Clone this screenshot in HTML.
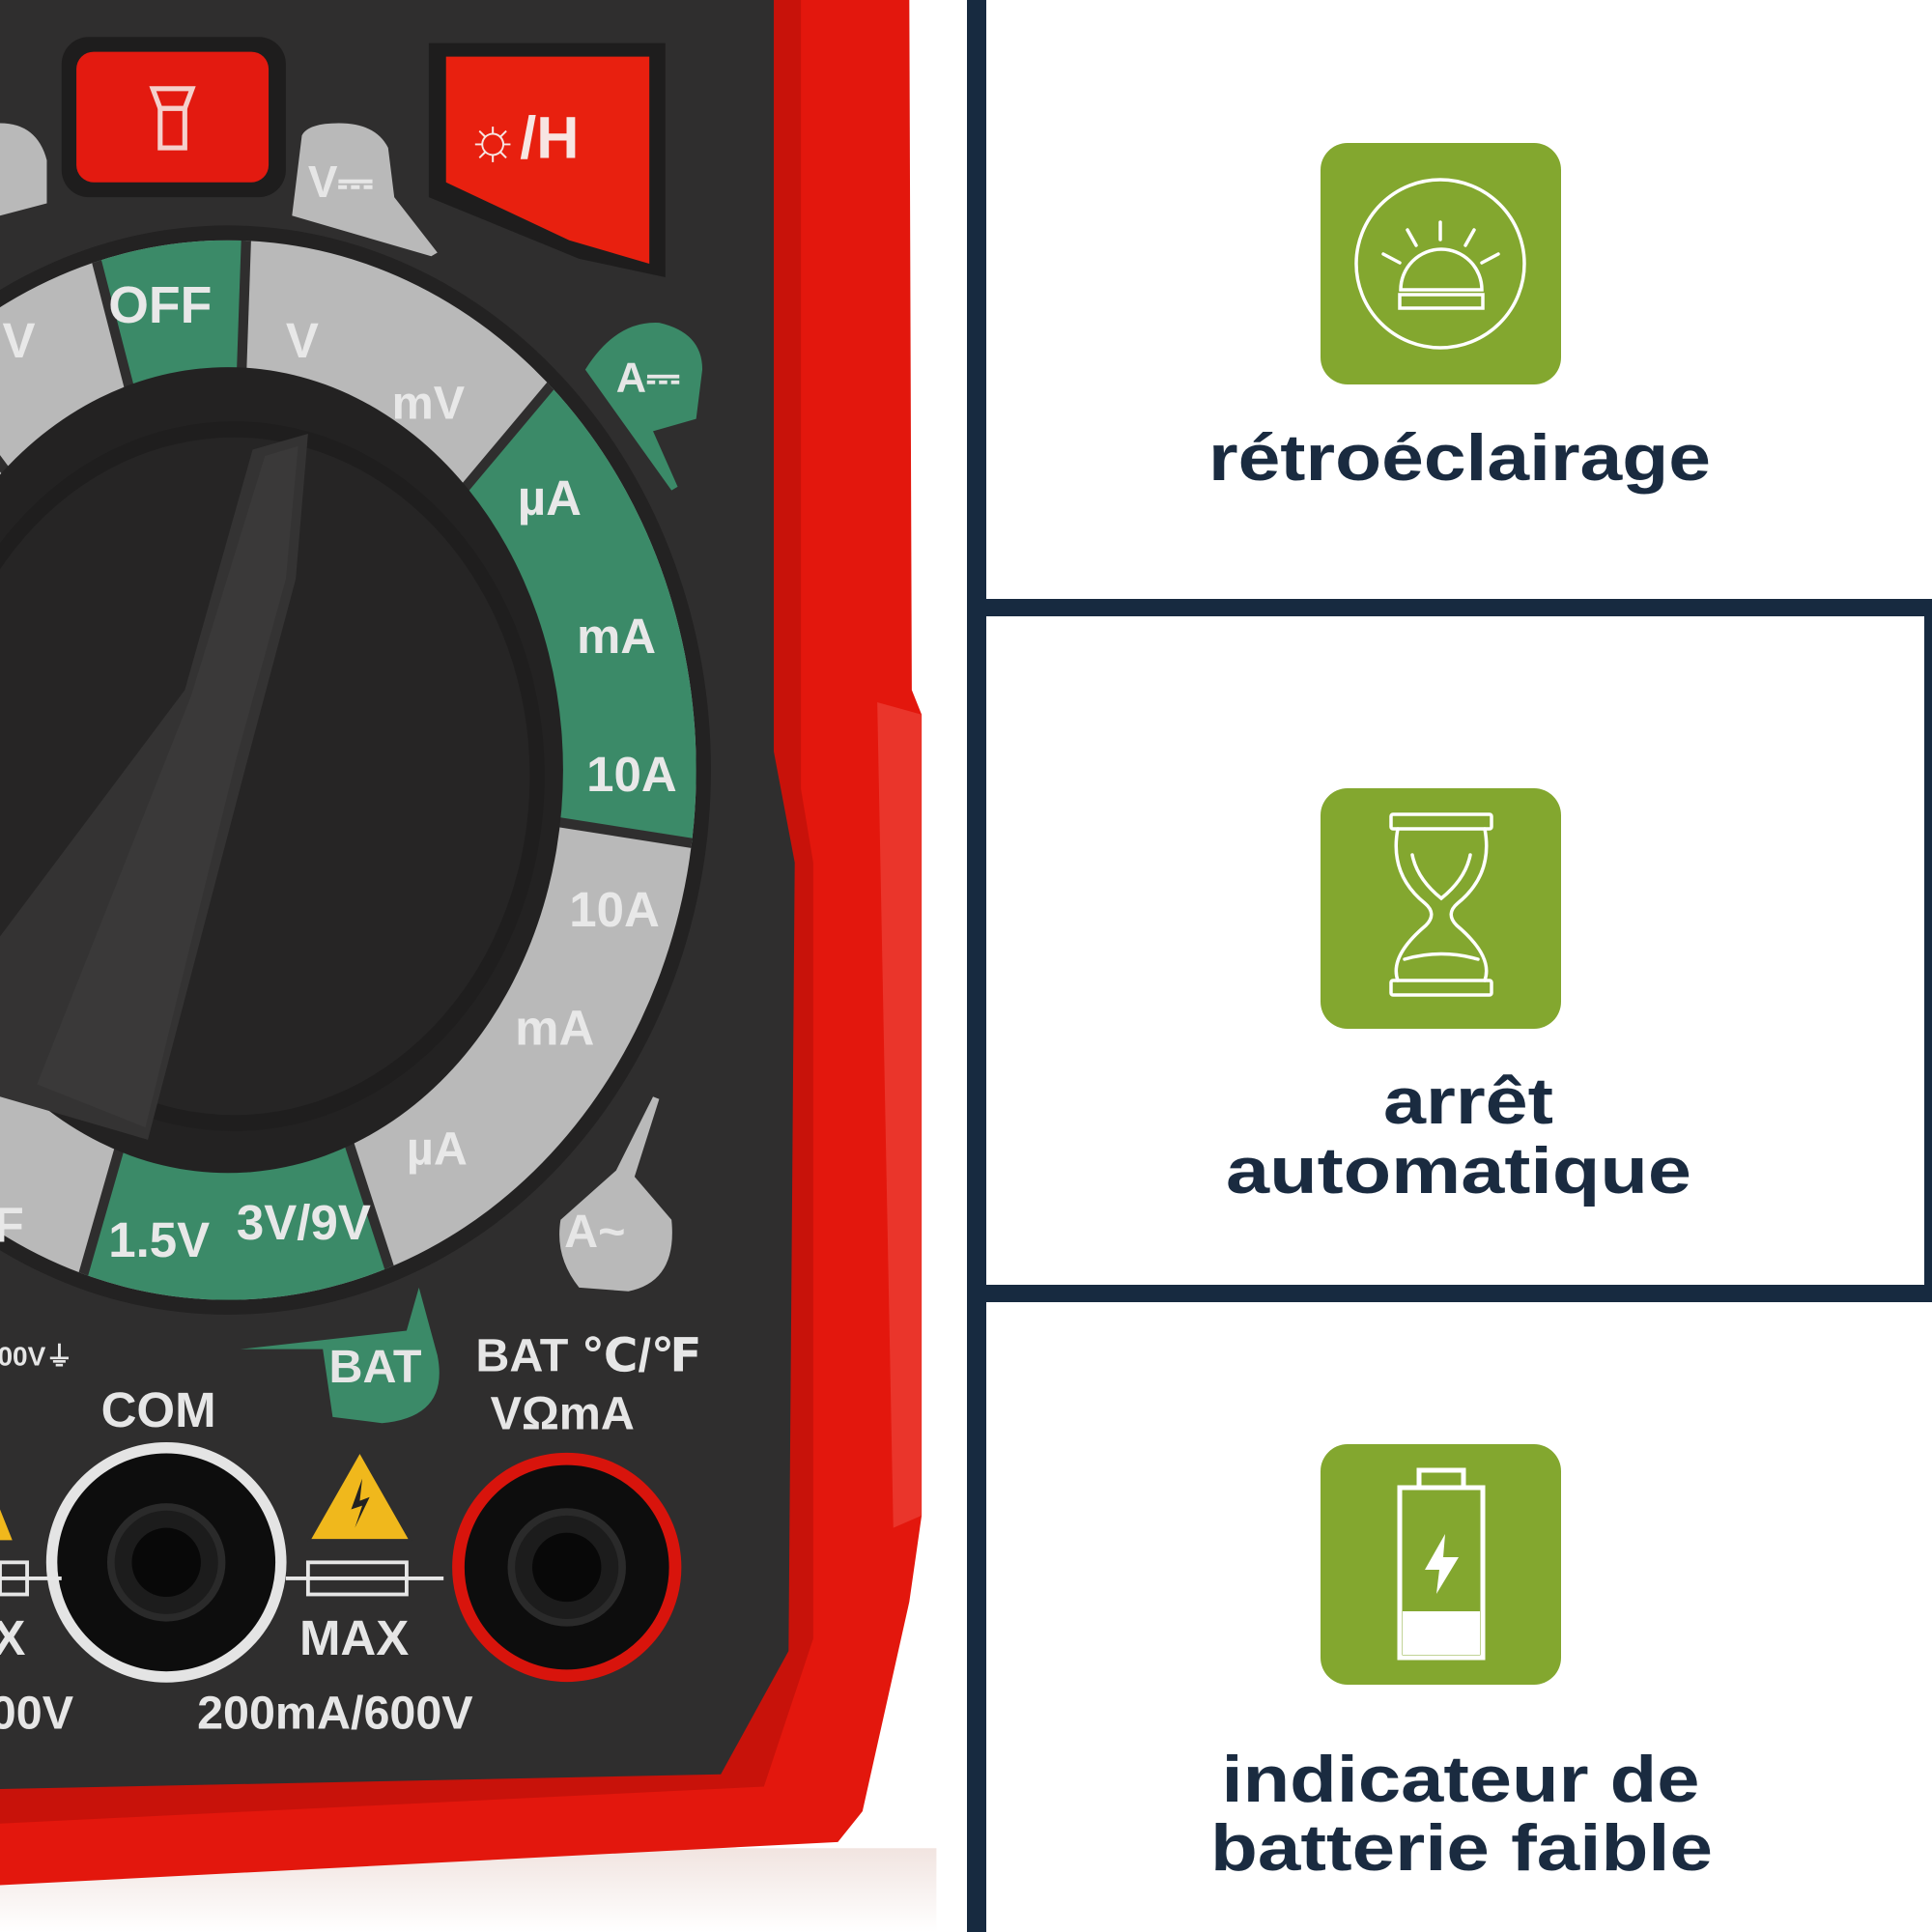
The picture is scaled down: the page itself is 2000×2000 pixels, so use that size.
<!DOCTYPE html>
<html><head><meta charset="utf-8"><style>
html,body{margin:0;padding:0;background:#fff;}
svg{display:block;}
</style></head><body>
<svg width="2000" height="2000" viewBox="0 0 2000 2000" xmlns="http://www.w3.org/2000/svg">
<defs>
<clipPath id="ring" clip-rule="evenodd">
<path clip-rule="evenodd" d="M-195,625 a380,430 0 1,0 760,0 a380,430 0 1,0 -760,0 Z M-85,625 a270,325 0 1,0 540,0 a270,325 0 1,0 -540,0 Z"/>
</clipPath>
<linearGradient id="floor" x1="0" y1="0" x2="0" y2="1"><stop offset="0" stop-color="#f1e4e0"/><stop offset="1" stop-color="#ffffff"/></linearGradient>
</defs>
<rect width="2000" height="2000" fill="#fff"/>
<g transform="scale(1.27551)">
<!-- floor reflection -->
<rect x="0" y="1500" width="760" height="68" fill="url(#floor)"/>
<!-- red casing -->
<path d="M0,0 L738,0 L740,560 L748,580 L748,1230 L738,1300 L700,1470 L680,1495 L0,1530 Z" fill="#e3170d"/>
<path d="M712,570 L748,580 L748,1230 L725,1240 Z" fill="#ee4a40" opacity="0.6"/>
<path d="M0,0 L650,0 L650,640 L660,700 L660,1330 L620,1450 L0,1480 Z" fill="#c8120a"/>
<!-- dark panel -->
<path d="M0,0 L628,0 L628,610 L645,700 L640,1340 L585,1440 L0,1452 Z" fill="#2f2e2e"/>
<!-- buttons -->
<rect x="50" y="30" width="182" height="130" rx="22" fill="#1e1d1d"/>
<rect x="62" y="42" width="156" height="106" rx="14" fill="#e31a10"/>
<path d="M348,35 L540,35 L540,225 L470,210 L348,160 Z" fill="#1e1d1d"/>
<path d="M362,46 L527,46 L527,214 L462,195 L362,148 Z" fill="#e8200f"/>
<rect x="130" y="88" width="20" height="32" fill="none" stroke="#f4d0cc" stroke-width="4"/>
<path d="M124,72 L156,72 L150,88 L130,88 Z" fill="none" stroke="#f4d0cc" stroke-width="4"/>
<text x="378" y="128" font-family="Liberation Sans, DejaVu Sans, sans-serif" font-weight="bold" font-size="48" fill="#f7e5e2">☼/H</text>
<!-- tabs -->
<path d="M237,175 L245,110 Q250,100 275,100 Q305,100 315,120 L320,160 L355,205 L350,208 Z" fill="#b9b9b9"/>
<text x="250" y="160" font-family="Liberation Sans, sans-serif" font-weight="bold" font-size="36" fill="#e6e6e6">V⎓</text>
<path d="M0,100 Q30,100 38,130 L38,165 L0,175 Z" fill="#b9b9b9"/>
<path d="M475,300 Q500,260 535,262 Q570,270 570,300 L565,340 L530,350 L550,395 L545,398 Z" fill="#3b8a68"/>
<text x="500" y="318" font-family="Liberation Sans, sans-serif" font-weight="bold" font-size="34" fill="#e6e6e6">A⎓</text>
<path d="M455,990 L500,950 L530,890 L535,892 L515,955 L545,990 Q550,1040 510,1048 L470,1045 Q450,1020 455,990 Z" fill="#b9b9b9"/>
<text x="458" y="1012" font-family="Liberation Sans, sans-serif" font-weight="bold" font-size="38" fill="#e6e6e6">A~</text>
<path d="M195,1095 L330,1080 L340,1045 L355,1100 Q365,1150 310,1155 L270,1150 L262,1095 Z" fill="#3b8a68"/>
<text x="267" y="1122" font-family="Liberation Sans, sans-serif" font-weight="bold" font-size="38" fill="#e6e6e6">BAT</text>
<!-- ring band -->
<ellipse cx="185" cy="625" rx="392" ry="442" fill="#232222"/>
<g clip-path="url(#ring)">
<rect x="-300" y="0" width="1000" height="1200" fill="#b9b9b9"/>
<path d="M185,625 L10,-53 L209,-74 Z" fill="#3b8a68"/>
<path d="M185,625 L635,89 L843,386 L877,734 Z" fill="#3b8a68"/>
<path d="M185,625 L401,1291 L-8,1298 Z" fill="#3b8a68"/>
<g stroke="#2f2e2e" stroke-width="8">
<line x1="185" y1="625" x2="10" y2="-53"/><line x1="185" y1="625" x2="209" y2="-74"/>
<line x1="185" y1="625" x2="635" y2="89"/><line x1="185" y1="625" x2="877" y2="734"/>
<line x1="185" y1="625" x2="401" y2="1291"/><line x1="185" y1="625" x2="-8" y2="1298"/>
<line x1="185" y1="625" x2="-220" y2="80"/><line x1="185" y1="625" x2="-220" y2="1180"/>
</g>
</g>
<!-- inner ring & knob -->
<ellipse cx="185" cy="625" rx="272" ry="327" fill="#232222"/>
<ellipse cx="190" cy="630" rx="252" ry="288" fill="#1f1e1e"/>
<ellipse cx="190" cy="630" rx="240" ry="275" fill="#262525"/>
<path d="M205,365 L250,352 L240,470 L200,620 L120,925 L0,890 L0,760 L150,560 Z" fill="#343333"/>
<path d="M215,370 L242,362 L232,470 L192,615 L118,915 L30,880 L155,565 Z" fill="#3a3939"/>
<!-- band labels -->
<g font-family="Liberation Sans, sans-serif" font-weight="bold" fill="#e8e8e8">
<text x="88" y="262" font-size="42">OFF</text>
<text x="2" y="290" font-size="40">V</text>
<text x="232" y="290" font-size="40">V</text>
<text x="318" y="340" font-size="38">mV</text>
<text x="420" y="418" font-size="40">µA</text>
<text x="468" y="530" font-size="40">mA</text>
<text x="476" y="642" font-size="40">10A</text>
<text x="462" y="752" font-size="40">10A</text>
<text x="418" y="848" font-size="40">mA</text>
<text x="330" y="945" font-size="38">µA</text>
<text x="88" y="1020" font-size="40">1.5V</text>
<text x="192" y="1006" font-size="40">3V/9V</text>
<text x="-5" y="1008" font-size="40">F</text>
</g>
<!-- lower labels -->
<g font-family="Liberation Sans, DejaVu Sans, sans-serif" font-weight="bold" fill="#e6e6e6">
<text x="82" y="1158" font-size="40">COM</text>
<text x="386" y="1113" font-size="38">BAT ℃/℉</text>
<text x="398" y="1160" font-size="38">VΩmA</text>
<text x="243" y="1343" font-size="40">MAX</text>
<text x="160" y="1403" font-size="38">200mA/600V</text>
<text x="-8" y="1403" font-size="38">00V</text>
<text x="-6" y="1343" font-size="40">X</text>
<text x="-2" y="1108" font-size="22">00V⏚</text>
</g>
<!-- jacks -->
<circle cx="135" cy="1268" r="93" fill="#0d0d0d" stroke="#e4e4e4" stroke-width="9"/>
<circle cx="135" cy="1268" r="45" fill="#1c1c1c" stroke="#2a2a2a" stroke-width="6"/>
<circle cx="135" cy="1268" r="28" fill="#080808"/>
<circle cx="460" cy="1272" r="88" fill="#0d0d0d" stroke="#d8140c" stroke-width="10"/>
<circle cx="460" cy="1272" r="45" fill="#1c1c1c" stroke="#2a2a2a" stroke-width="6"/>
<circle cx="460" cy="1272" r="28" fill="#080808"/>
<!-- warning -->
<path d="M292,1178 L333,1250 L251,1250 Z" fill="#f0b81c" stroke="#2f2e2e" stroke-width="2"/>
<path d="M294,1200 L285,1225 L294,1222 L288,1240 L300,1215 L292,1218 Z" fill="#222"/>
<path d="M0,1225 L10,1250 L0,1250 Z" fill="#f0b81c"/>
<!-- fuse -->
<g stroke="#e6e6e6" stroke-width="3" fill="none">
<rect x="250" y="1268" width="80" height="26"/>
<line x1="232" y1="1281" x2="360" y2="1281"/>
<line x1="0" y1="1281" x2="50" y2="1281"/>
<rect x="0" y="1268" width="22" height="26"/>
</g>
</g>
<!-- right side -->
<rect x="1001" y="0" width="20" height="2000" fill="#172a40"/>
<rect x="1001" y="620" width="999" height="18" fill="#172a40"/>
<rect x="1001" y="1330" width="999" height="18" fill="#172a40"/>
<rect x="1992" y="620" width="8" height="728" fill="#172a40"/>
<!-- icon 1 -->
<rect x="1367" y="148" width="249" height="250" rx="28" fill="#83a72f"/>
<g stroke="#fff" stroke-width="3.5" fill="none" stroke-linecap="round">
<circle cx="1491" cy="273" r="87"/>
<path d="M1450,300 A41,41 0 0 1 1534,300 Z"/>
<rect x="1449" y="305" width="86" height="14"/>
<line x1="1491" y1="230" x2="1491" y2="248"/>
<line x1="1457" y1="238" x2="1466" y2="254"/>
<line x1="1526" y1="238" x2="1517" y2="254"/>
<line x1="1432" y1="263" x2="1449" y2="272"/>
<line x1="1551" y1="263" x2="1534" y2="272"/>
</g>
<text x="1511" y="497" text-anchor="middle" font-family="Liberation Sans, sans-serif" font-weight="bold" font-size="68" fill="#1a2b40" textLength="520" lengthAdjust="spacingAndGlyphs">rétroéclairage</text>
<!-- icon 2 -->
<rect x="1367" y="816" width="249" height="249" rx="28" fill="#83a72f"/>
<g stroke="#fff" stroke-width="3.5" fill="none" stroke-linecap="round">
<rect x="1440" y="843" width="104" height="15" rx="2"/>
<rect x="1440" y="1015" width="104" height="15" rx="2"/>
<path d="M1447,858 Q1438,905 1475,935 Q1488,946 1476,958 Q1438,990 1447,1015"/>
<path d="M1537,858 Q1546,905 1509,935 Q1496,946 1508,958 Q1546,990 1537,1015"/>
<path d="M1462,885 Q1467,910 1492,930 Q1517,910 1522,885"/>
<path d="M1454,993 Q1492,982 1530,993"/>
</g>
<text x="1520" y="1163" text-anchor="middle" font-family="Liberation Sans, sans-serif" font-weight="bold" font-size="68" fill="#1a2b40" textLength="176" lengthAdjust="spacingAndGlyphs">arrêt</text>
<text x="1510" y="1235" text-anchor="middle" font-family="Liberation Sans, sans-serif" font-weight="bold" font-size="68" fill="#1a2b40" textLength="482" lengthAdjust="spacingAndGlyphs">automatique</text>
<!-- icon 3 -->
<rect x="1367" y="1495" width="249" height="249" rx="28" fill="#83a72f"/>
<g stroke="#fff" stroke-width="5" fill="none">
<rect x="1449" y="1540" width="86" height="176"/>
<rect x="1469" y="1522" width="46" height="18"/>
</g>
<rect x="1452" y="1668" width="80" height="45" fill="#fff"/>
<path d="M1496,1588 L1475,1625 L1490,1625 L1487,1650 L1510,1612 L1494,1612 Z" fill="#fff"/>
<text x="1512" y="1865" text-anchor="middle" font-family="Liberation Sans, sans-serif" font-weight="bold" font-size="68" fill="#1a2b40" textLength="495" lengthAdjust="spacingAndGlyphs">indicateur de</text>
<text x="1513" y="1936" text-anchor="middle" font-family="Liberation Sans, sans-serif" font-weight="bold" font-size="68" fill="#1a2b40" textLength="520" lengthAdjust="spacingAndGlyphs">batterie faible</text>
</svg>
</body></html>
